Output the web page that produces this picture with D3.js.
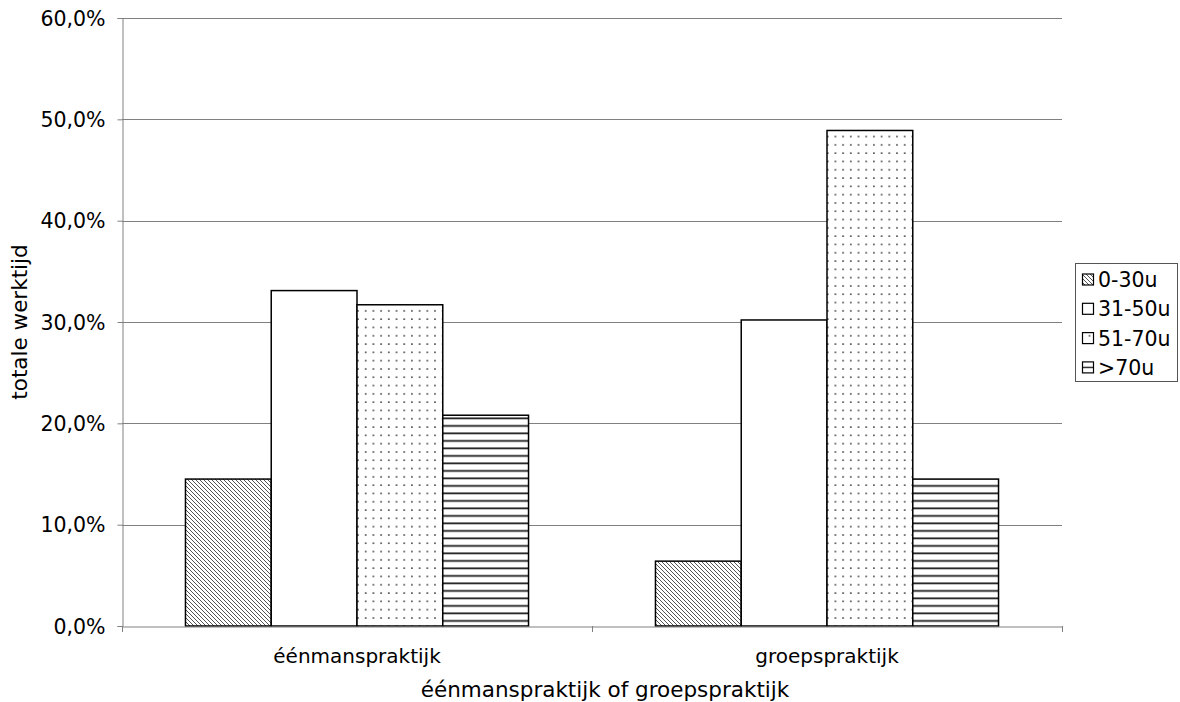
<!DOCTYPE html>
<html><head><meta charset="utf-8">
<script src="https://cdn.jsdelivr.net/npm/d3@7"></script>
<style>
body{margin:0;background:#fff;}
text{font-family:"DejaVu Sans",Verdana,sans-serif;fill:#000;}
</style></head>
<body><svg id="c" width="1180" height="702"></svg>
<script>
const categories = ["éénmanspraktijk", "groepspraktijk"];
const seriesNames = ["0-30u", "31-50u", "51-70u", ">70u"];
const values0to30 = [14.5, 6.4];
const values31to50 = [33.1, 30.2];
const values51to70 = [31.7, 48.9];
const valuesOver70 = [20.8, 14.5];
const yTicks = [0, 10, 20, 30, 40, 50, 60];
const yTitle = "totale werktijd";
const xTitle = "éénmanspraktijk of groepspraktijk";

const seriesValues = [values0to30, values31to50, values51to70, valuesOver70];
const patterns = ["pDiag", null, "pDots", "pHoriz"];

const svg = d3.select("#c");
const m = {l:122, r:1062, t:18, b:626};
const defs = svg.append("defs");

// diagonal
const pd = defs.append("pattern").attr("id","pDiag").attr("patternUnits","userSpaceOnUse").attr("width",4).attr("height",4);
pd.append("rect").attr("width",4).attr("height",4).attr("fill","#fff");
pd.append("path").attr("d","M-1,-1 L5,5 M-1,3 L1,5 M3,-1 L5,1").attr("stroke","#555").attr("stroke-width",1);
// dots
const pt = defs.append("pattern").attr("id","pDots").attr("patternUnits","userSpaceOnUse").attr("width",7.7).attr("height",8.3);
pt.append("rect").attr("width",7.7).attr("height",8.3).attr("fill","#fff");
pt.append("rect").attr("x",3).attr("y",3).attr("width",1.6).attr("height",1.6).attr("fill","#444");
// horizontal
const ph = defs.append("pattern").attr("id","pHoriz").attr("patternUnits","userSpaceOnUse").attr("width",8).attr("height",7.5);
ph.append("rect").attr("width",8).attr("height",7.5).attr("fill","#fff");
ph.append("rect").attr("x",0).attr("y",5).attr("width",8).attr("height",1.8).attr("fill","#222");
// legend-only horizontal (single middle line)
const ph2 = defs.append("pattern").attr("id","pHorizL").attr("patternUnits","objectBoundingBox").attr("width",1).attr("height",1);
ph2.append("rect").attr("width",12).attr("height",12).attr("fill","#fff");
ph2.append("rect").attr("x",0).attr("y",4.8).attr("width",12).attr("height",1.4).attr("fill","#222");

const y = d3.scaleLinear().domain([0,60]).range([m.b, m.t]);
const x0 = d3.scaleBand().domain(categories).range([m.l, m.r]).paddingInner(0).paddingOuter(0);
const x1 = d3.scaleBand().domain(seriesNames).range([0, x0.bandwidth()]).paddingInner(0).paddingOuter(0.74);

// gridlines
svg.append("g").selectAll("line").data(yTicks.filter(d=>d>0)).join("line")
  .attr("x1", m.l).attr("x2", m.r).attr("y1", d=>Math.round(y(d))+0.5).attr("y2", d=>Math.round(y(d))+0.5)
  .attr("stroke","#808080").attr("stroke-width",1);

// bars
const g = svg.append("g");
categories.forEach((cat, ci) => {
  seriesNames.forEach((s, si) => {
    const v = seriesValues[si][ci];
    g.append("rect")
      .attr("x", x0(cat) + x1(s))
      .attr("y", y(v))
      .attr("width", x1.bandwidth())
      .attr("height", y(0) - y(v))
      .attr("fill", patterns[si] ? `url(#${patterns[si]})` : "#fff")
      .attr("stroke", "#000").attr("stroke-width", 1.5);
  });
});

// y axis
const ya = d3.axisLeft(y).tickValues(yTicks).tickSize(5).tickPadding(12)
  .tickFormat(d => d3.format(".1f")(d).replace(".", ",") + "%");
const yg = svg.append("g").attr("transform", `translate(${m.l+0.5},0)`).call(ya);
yg.select(".domain").attr("stroke","#808080");
yg.selectAll(".tick line").attr("stroke","#808080");
yg.selectAll("text").style("font-size","20.5px").attr("dy","0.35em").attr("fill","#000");

// x axis
const xa = d3.axisBottom(x0).tickSize(0).tickPadding(22);
const xg = svg.append("g").attr("transform", `translate(0,${m.b+0.5})`).call(xa);
xg.select(".domain").attr("stroke","#808080");
xg.selectAll("text").style("font-size","20px").attr("fill","#000");
const bounds = [m.l, x0(categories[1]), m.r];
svg.append("g").selectAll("line").data(bounds).join("line")
  .attr("x1", d=>Math.round(d)+0.5).attr("x2", d=>Math.round(d)+0.5)
  .attr("y1", m.b).attr("y2", m.b+6).attr("stroke","#808080");

// titles
svg.append("text").attr("transform", `translate(27,${(m.t+m.b)/2}) rotate(-90)`)
  .attr("text-anchor","middle").style("font-size","21.5px").text(yTitle);
svg.append("text").attr("x", 605).attr("y", 697)
  .attr("text-anchor","middle").style("font-size","21.5px").text(xTitle);

// legend
const legendFills = ["url(#pDiag)", "#fff", "url(#pDots)", "url(#pHorizL)"];
const lg = svg.append("g");
lg.append("rect").attr("x",1075.5).attr("y",263.5).attr("width",102).attr("height",118)
  .attr("fill","#fff").attr("stroke","#555").attr("stroke-width",1);
seriesNames.forEach((s, i) => {
  const cy = 280 + i*29.3;
  lg.append("rect").attr("x",1082.5).attr("y",cy-6).attr("width",11).attr("height",11)
    .attr("fill", legendFills[i]).attr("stroke","#000").attr("stroke-width",1.2);
  lg.append("text").attr("x",1098).attr("y",cy).attr("dy","0.35em").style("font-size","20.5px").text(s);
});
</script></body></html>
